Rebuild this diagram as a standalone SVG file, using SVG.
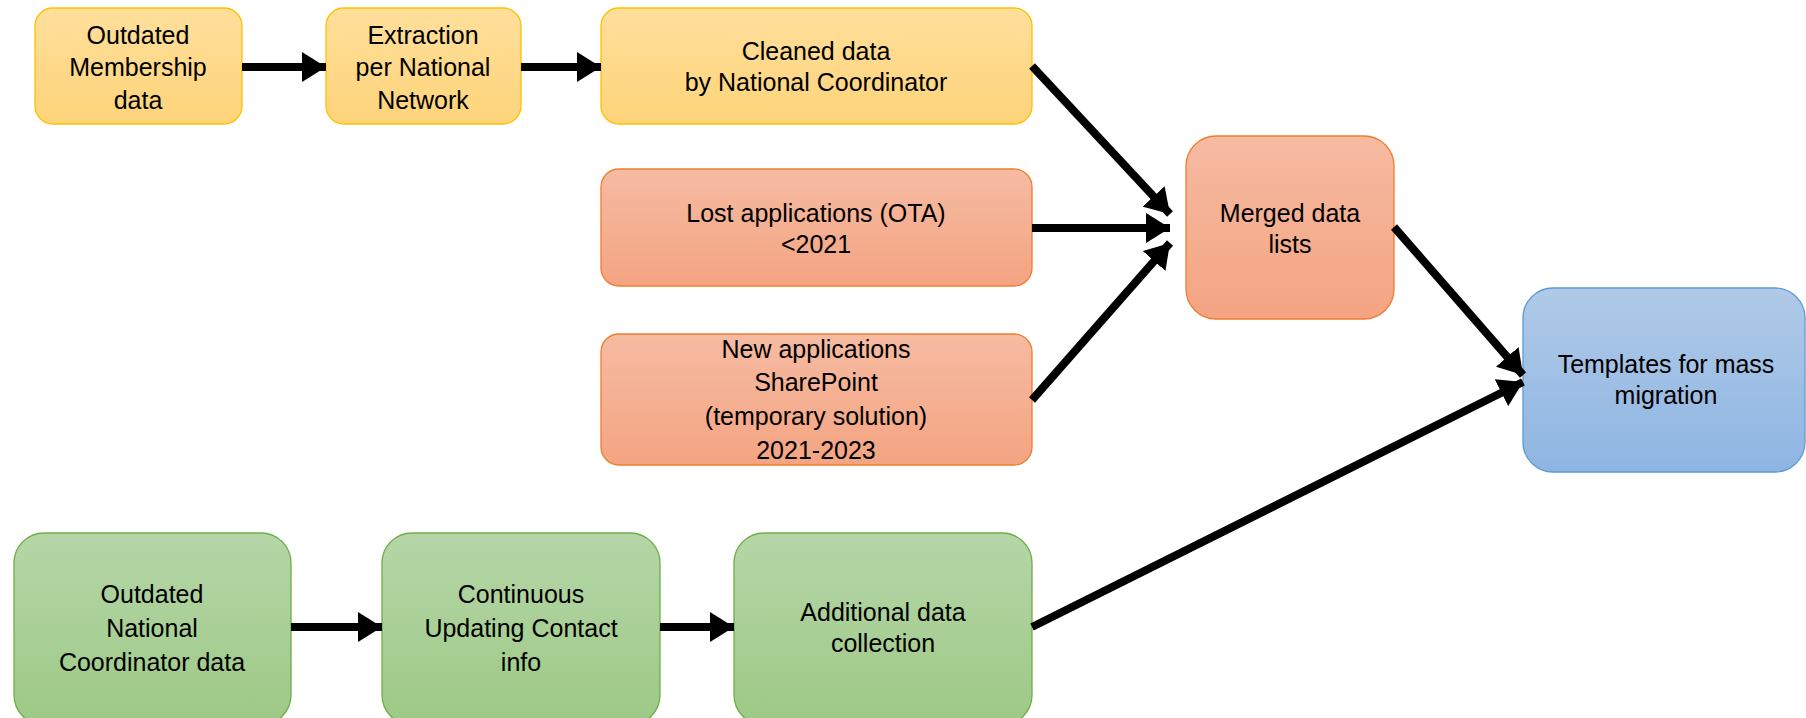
<svg xmlns="http://www.w3.org/2000/svg" width="1806" height="718" viewBox="0 0 1806 718">
<defs>
<linearGradient id="gy" x1="0" y1="0" x2="0" y2="1"><stop offset="0" stop-color="#FFDF9B"/><stop offset="1" stop-color="#FED47A"/></linearGradient>
<linearGradient id="go" x1="0" y1="0" x2="0" y2="1"><stop offset="0" stop-color="#F6BBA2"/><stop offset="1" stop-color="#F4A482"/></linearGradient>
<linearGradient id="gg" x1="0" y1="0" x2="0" y2="1"><stop offset="0" stop-color="#B5D6A8"/><stop offset="1" stop-color="#9DC985"/></linearGradient>
<linearGradient id="gb" x1="0" y1="0" x2="0" y2="1"><stop offset="0" stop-color="#B0CAE8"/><stop offset="1" stop-color="#8EB5E2"/></linearGradient>
<marker id="ah" markerUnits="userSpaceOnUse" markerWidth="26" markerHeight="30" refX="24" refY="15" orient="auto">
<path d="M0,0 L24,15 L0,30 z" fill="#000"/>
</marker>
</defs>
<style>
.y{fill:url(#gy);stroke:#FFC000;stroke-width:1.3}
.o{fill:url(#go);stroke:#ED7D31;stroke-width:1.3}
.g{fill:url(#gg);stroke:#70AD47;stroke-width:1.3}
.b{fill:url(#gb);stroke:#5B9BD5;stroke-width:1.3}
text{font-family:"Liberation Sans",Arial,sans-serif;font-size:25px;fill:#000;text-anchor:middle;dominant-baseline:central}
.c line{stroke:#000;stroke-width:8;marker-end:url(#ah)}
</style>
<rect width="1806" height="718" fill="#fff"/>
<g id="n1"><rect class="y" x="35" y="8" width="207" height="116" rx="18"/><text x="138" y="35">Outdated</text><text x="138" y="67">Membership</text><text x="138" y="100">data</text></g>
<g id="n2"><rect class="y" x="326" y="8" width="195" height="116" rx="18"/><text x="423" y="35">Extraction</text><text x="423" y="67">per National</text><text x="423" y="100">Network</text></g>
<g id="n3"><rect class="y" x="601" y="8" width="431" height="116" rx="18"/><text x="816" y="51">Cleaned data</text><text x="816" y="82">by National Coordinator</text></g>
<g id="n4"><rect class="o" x="601" y="169" width="431" height="117" rx="18"/><text x="816" y="213">Lost applications (OTA)</text><text x="816" y="244">&lt;2021</text></g>
<g id="n5"><rect class="o" x="601" y="334" width="431" height="131" rx="18"/><text x="816" y="349">New applications</text><text x="816" y="382">SharePoint</text><text x="816" y="416">(temporary solution)</text><text x="816" y="450">2021-2023</text></g>
<g id="n6"><rect class="o" x="1186" y="136" width="208" height="183" rx="30"/><text x="1290" y="213">Merged data</text><text x="1290" y="244">lists</text></g>
<g id="n7"><rect class="b" x="1523" y="288" width="282" height="184" rx="30"/><text x="1666" y="364">Templates for mass</text><text x="1666" y="395">migration</text></g>
<g id="n8"><rect class="g" x="14" y="533" width="277" height="192" rx="30"/><text x="152" y="594">Outdated</text><text x="152" y="628">National</text><text x="152" y="662">Coordinator data</text></g>
<g id="n9"><rect class="g" x="382" y="533" width="278" height="192" rx="30"/><text x="521" y="594">Continuous</text><text x="521" y="628">Updating Contact</text><text x="521" y="662">info</text></g>
<g id="n10"><rect class="g" x="734" y="533" width="298" height="192" rx="30"/><text x="883" y="612">Additional data</text><text x="883" y="643">collection</text></g>
<g id="connectors" class="c">
<line x1="242" y1="67" x2="326" y2="67"/>
<line x1="521" y1="67" x2="601" y2="67"/>
<line x1="1032" y1="66" x2="1170" y2="214"/>
<line x1="1032" y1="228" x2="1170" y2="228"/>
<line x1="1032" y1="400" x2="1170" y2="243"/>
<line x1="1394" y1="227" x2="1523" y2="375"/>
<line x1="1032" y1="627" x2="1523" y2="382"/>
<line x1="291" y1="627" x2="382" y2="627"/>
<line x1="660" y1="627" x2="734" y2="627"/>
</g>
</svg>
